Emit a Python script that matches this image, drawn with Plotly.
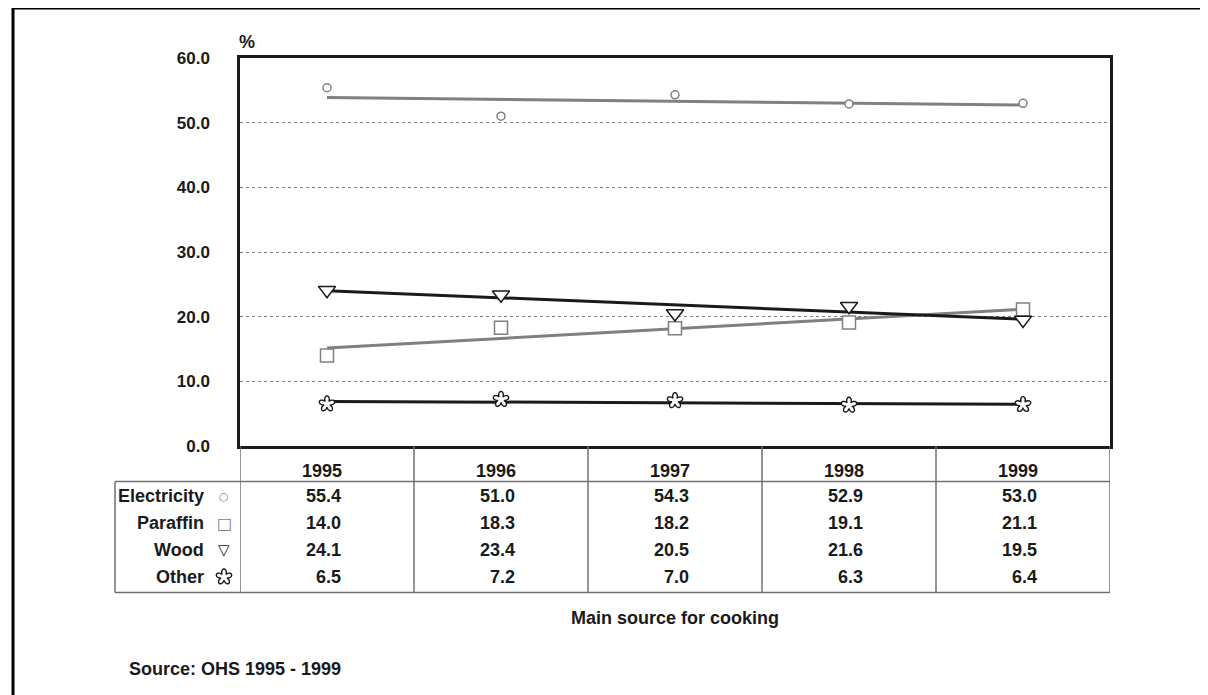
import numpy as np
import plotly.graph_objects as go

years = [1995, 1996, 1997, 1998, 1999]
electricity = [55.4, 51.0, 54.3, 52.9, 53.0]
paraffin = [14.0, 18.3, 18.2, 19.1, 21.1]
wood = [24.1, 23.4, 20.5, 21.6, 19.5]
other = [6.5, 7.2, 7.0, 6.3, 6.4]

series_names = ["Electricity", "Paraffin", "Wood", "Other"]
series_vals = [electricity, paraffin, wood, other]
line_colors = ["#808080", "#808080", "#1a1a1a", "#1a1a1a"]
legend_glyphs = ["○", "□", "▽", None]
glyph_sizes = [11, 16, 15, 0]

FONT = "Liberation Sans, Arial, sans-serif"
SYM = "DejaVu Sans"
OFF = 8  # page body margin
W, H = 1208, 695
L, T = 240 - OFF, 58 - OFF
plot_w, plot_h = 870, 388
R, B = W - L - plot_w, H - T - plot_h


def py(pix):
    # reference pixel y -> paper y
    return (H - B - (pix - OFF)) / plot_h


def px(pix):
    return (pix - OFF - L) / plot_w


# five-petal flower outline, in pixels around its anchor
th = np.linspace(0, 2 * np.pi, 91)
rr = 3.2 + 4.8 * np.abs(np.cos(2.5 * (th - np.pi / 2)))
pts = ["%.2f,%.2f" % (r * np.cos(t), r * np.sin(t)) for r, t in zip(rr, th)]
FLOWER = "M" + " L".join(pts) + " Z"


def flower_shape(x, y, xref, yref):
    return dict(type="path", path=FLOWER, xref=xref, yref=yref,
                xsizemode="pixel", ysizemode="pixel", xanchor=x, yanchor=y,
                fillcolor="white", line=dict(color="#1a1a1a", width=1.4), layer="above")


fig = go.Figure()

# linear trend lines
for name, vals, col in zip(series_names, series_vals, line_colors):
    k, b = np.polyfit(years, vals, 1)
    xs = [years[0], years[-1]]
    fig.add_trace(go.Scatter(x=xs, y=[k * x + b for x in xs], mode="lines",
                             line=dict(color=col, width=3), hoverinfo="skip"))

# markers
fig.add_trace(go.Scatter(x=years, y=electricity, mode="markers",
                         marker=dict(symbol="circle", size=8, color="white",
                                     line=dict(color="#808080", width=1.5))))
fig.add_trace(go.Scatter(x=years, y=paraffin, mode="markers",
                         marker=dict(symbol="square", size=13, color="white",
                                     line=dict(color="#808080", width=1.5))))
fig.add_trace(go.Scatter(x=years, y=wood, mode="markers",
                         marker=dict(symbol="triangle-down", size=15, color="white",
                                     line=dict(color="#1a1a1a", width=1.5))))

ann = []
shapes = []
grey = "#707070"

for yr, v in zip(years, other):
    shapes.append(flower_shape(yr, v, "x", "y"))

# outer frame (only top/left visible)
shapes.append(dict(type="rect", xref="paper", yref="paper",
                   x0=px(13), x1=px(1260), y0=py(760), y1=py(8),
                   line=dict(color="black", width=3), layer="below"))

# table grid
row_top, row_bot = 481.5, 592.5
for i in range(len(years) + 1):
    xv = years[0] - 0.5 + i
    shapes.append(dict(type="line", xref="x", yref="paper", x0=xv, x1=xv,
                       y0=py(446), y1=py(row_bot), line=dict(color=grey, width=1.5)))
shapes.append(dict(type="line", xref="paper", yref="paper", x0=px(115), x1=px(115),
                   y0=py(row_top), y1=py(row_bot), line=dict(color=grey, width=1.5)))
for yy in (row_top, row_bot):
    shapes.append(dict(type="line", xref="paper", yref="paper", x0=px(115), x1=1,
                       y0=py(yy), y1=py(yy), line=dict(color=grey, width=1.5)))

tf = dict(family=FONT, size=18, color="#1a1a1a")

# header years
for yr in years:
    ann.append(dict(x=yr, y=py(471), xref="x", yref="paper", text="<b>%d</b>" % yr,
                    showarrow=False, xanchor="right", xshift=17, yanchor="middle", font=tf))

row_y = [496, 523, 550, 577]
for ry, name, vals, glyph, col, gs in zip(row_y, series_names, series_vals,
                                          legend_glyphs, line_colors, glyph_sizes):
    ann.append(dict(x=px(206), y=py(ry), xref="paper", yref="paper", text="<b>%s</b>" % name,
                    showarrow=False, xanchor="right", yanchor="middle", font=tf))
    if glyph is None:
        shapes.append(flower_shape(px(224), py(ry), "paper", "paper"))
    else:
        ann.append(dict(x=px(224), y=py(ry), xref="paper", yref="paper", text=glyph,
                        showarrow=False, xanchor="center", yanchor="middle",
                        font=dict(family=SYM, size=gs, color=col)))
    for yr, v in zip(years, vals):
        ann.append(dict(x=yr, y=py(ry), xref="x", yref="paper", text="<b>%.1f</b>" % v,
                        showarrow=False, xanchor="right", xshift=16, yanchor="middle", font=tf))

ann.append(dict(x=px(247), y=py(42), xref="paper", yref="paper", text="<b>%</b>",
                showarrow=False, xanchor="center", yanchor="middle", font=tf))
ann.append(dict(x=0.5, y=py(618), xref="paper", yref="paper", text="<b>Main source for cooking</b>",
                showarrow=False, xanchor="center", yanchor="middle", font=tf))
ann.append(dict(x=px(127), y=py(669), xref="paper", yref="paper", text="<b>Source: OHS 1995 - 1999</b>",
                showarrow=False, xanchor="left", yanchor="middle", font=tf))

fig.update_layout(
    width=W, height=H, margin=dict(l=L, r=R, t=T, b=B),
    paper_bgcolor="white", plot_bgcolor="white", showlegend=False,
    font=tf, annotations=ann, shapes=shapes,
    xaxis=dict(range=[years[0] - 0.5, years[-1] + 0.5], showticklabels=False,
               showgrid=False, zeroline=False, showline=True, mirror=True,
               linecolor="#1a1a1a", linewidth=2.5, ticks=""),
    yaxis=dict(range=[0, 60], tickvals=[0, 10, 20, 30, 40, 50, 60], tickformat=".1f",
               showgrid=True, gridcolor="#808080", griddash="dot", gridwidth=1,
               zeroline=False, showline=True, mirror=True, linecolor="#1a1a1a",
               linewidth=2.5, ticks="", ticklabelstandoff=24,
               tickfont=dict(family=FONT, size=17, color="#1a1a1a", weight="bold")),
)

fig.write_html("out.html")
